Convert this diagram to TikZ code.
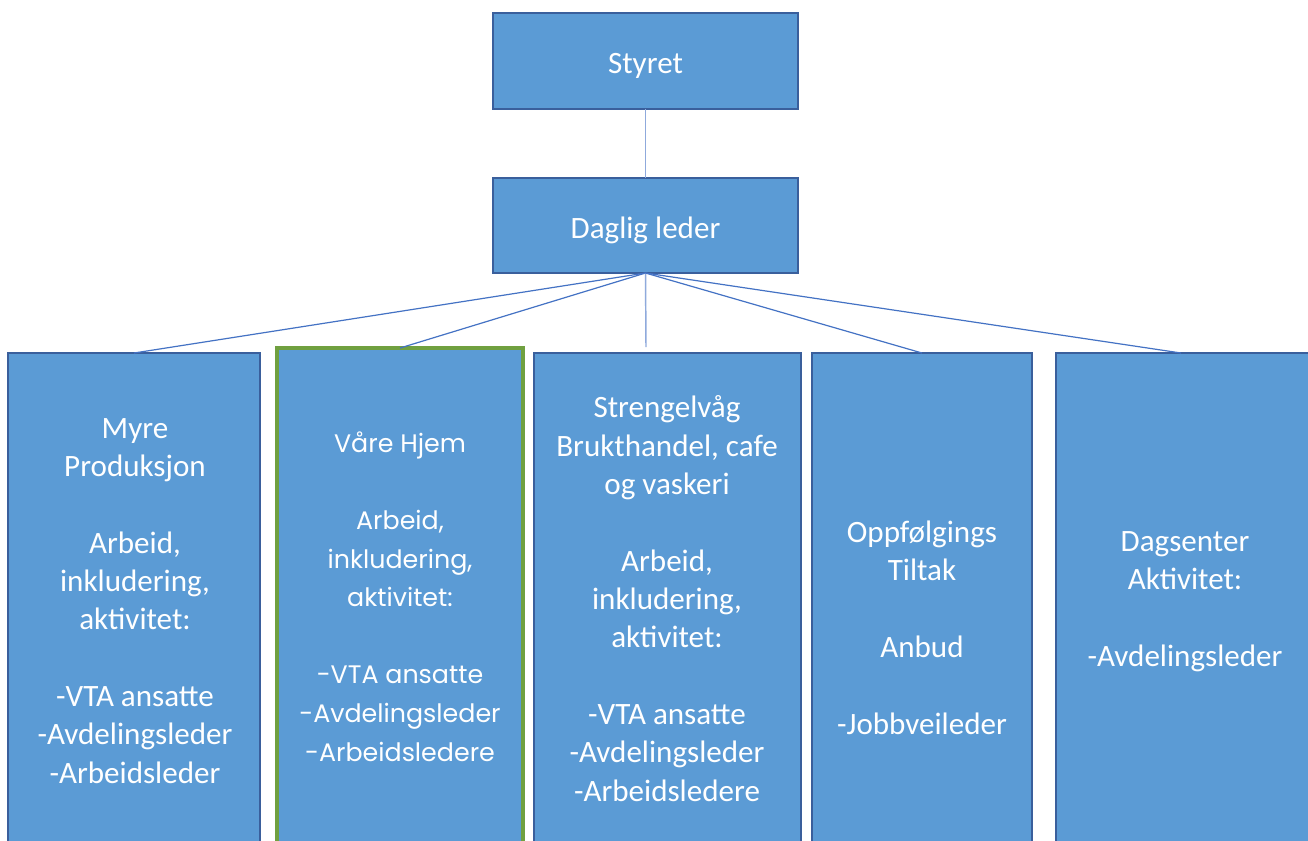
\documentclass[tikz,border=0pt]{standalone}
\usepackage{fontspec}
\setmainfont{Carlito}
\newfontfamily\gothfont{Poppins}
\definecolor{boxfill}{HTML}{5B9BD5}
\definecolor{boxline}{HTML}{3A5F9C}
\definecolor{connline}{HTML}{4472C4}
\definecolor{lightconn}{HTML}{8FAADC}
\definecolor{greenline}{HTML}{70A040}
\begin{document}
\begin{tikzpicture}[x=0.75pt,y=-0.75pt,
  orgbox/.style={draw=boxline,line width=2pt,fill=boxfill,inner sep=0pt,outer sep=0pt},
  greenbox/.style={draw=greenline,line width=2.3pt,fill=boxfill,inner sep=0pt,outer sep=0pt},
  boxtext/.style={text=white,align=center,anchor=base,inner sep=0pt,font=\fontsize{23.3}{28.75}\selectfont},
  conn/.style={draw=connline,line width=0.9pt},
  lconn/.style={draw=lightconn,line width=1.1pt}]
\useasboundingbox (0,0) rectangle (1308,840);
\clip (0,0) rectangle (1308,840);
\fill[white] (0,0) rectangle (1308,840);
% top boxes
\node[orgbox,minimum width=305*0.75pt,minimum height=96*0.75pt] (styret) at (645.5,61) {};
\node[orgbox,minimum width=305*0.75pt,minimum height=95*0.75pt] (daglig) at (645.5,225.5) {};
\node[text=white,inner sep=0pt,font=\fontsize{23.3}{28.5}\selectfont] (styrett) at (645.5,66) {Styret};
\node[text=white,inner sep=0pt,font=\fontsize{23.3}{28.5}\selectfont] (dagligt) at (645.5,230) {Daglig leder};
% bottom boxes
\node[orgbox,minimum width=252*0.75pt,minimum height=520*0.75pt,anchor=north west] (b1) at (8,353) {};
\node[greenbox,minimum width=246*0.75pt,minimum height=520*0.75pt,anchor=north west] (b2) at (277,348) {};
\node[orgbox,minimum width=267*0.75pt,minimum height=520*0.75pt,anchor=north west] (b3) at (534,353) {};
\node[orgbox,minimum width=220*0.75pt,minimum height=520*0.75pt,anchor=north west] (b4) at (812,353) {};
\node[orgbox,minimum width=260*0.75pt,minimum height=520*0.75pt,anchor=north west] (b5) at (1056,353) {};
\coordinate (c3) at (646,347);
% connectors
\draw[lconn] (styret.south) -- (daglig.north);
\draw[conn] (daglig.south) -- (b1.north);
\draw[conn] (daglig.south) -- (b2.north);
\draw[lconn] (daglig.south) -- (c3);
\draw[conn] (daglig.south) -- (b4.north);
\draw[conn] (daglig.south) -- (1181,353);
% texts (anchor base = baseline of the last line)
\node[boxtext] (t1) at (135,783) {Myre\\Produksjon\\[28.75pt]Arbeid,\\inkludering,\\aktivitet:\\[28.75pt]-VTA ansatte\\-Avdelingsleder\\-Arbeidsleder};
\node[boxtext,font=\gothfont\fontsize{19}{28.9}\selectfont] (t2) at (400,761) {Våre Hjem\\[28.9pt]Arbeid,\\inkludering,\\aktivitet:\\[28.9pt]-VTA ansatte\\-Avdelingsleder\\-Arbeidsledere};
\node[boxtext] (t3) at (667,801) {Strengelvåg\\Brukthandel, cafe\\og vaskeri\\[28.75pt]Arbeid,\\inkludering,\\aktivitet:\\[28.75pt]-VTA ansatte\\-Avdelingsleder\\-Arbeidsledere};
\node[boxtext] (t4) at (922,734) {Oppfølgings\\Tiltak\\[28.75pt]Anbud\\[28.75pt]-Jobbveileder};
\node[boxtext] (t5) at (1185,666) {Dagsenter\\Aktivitet:\\[28.75pt]-Avdelingsleder};
\end{tikzpicture}
\end{document}
